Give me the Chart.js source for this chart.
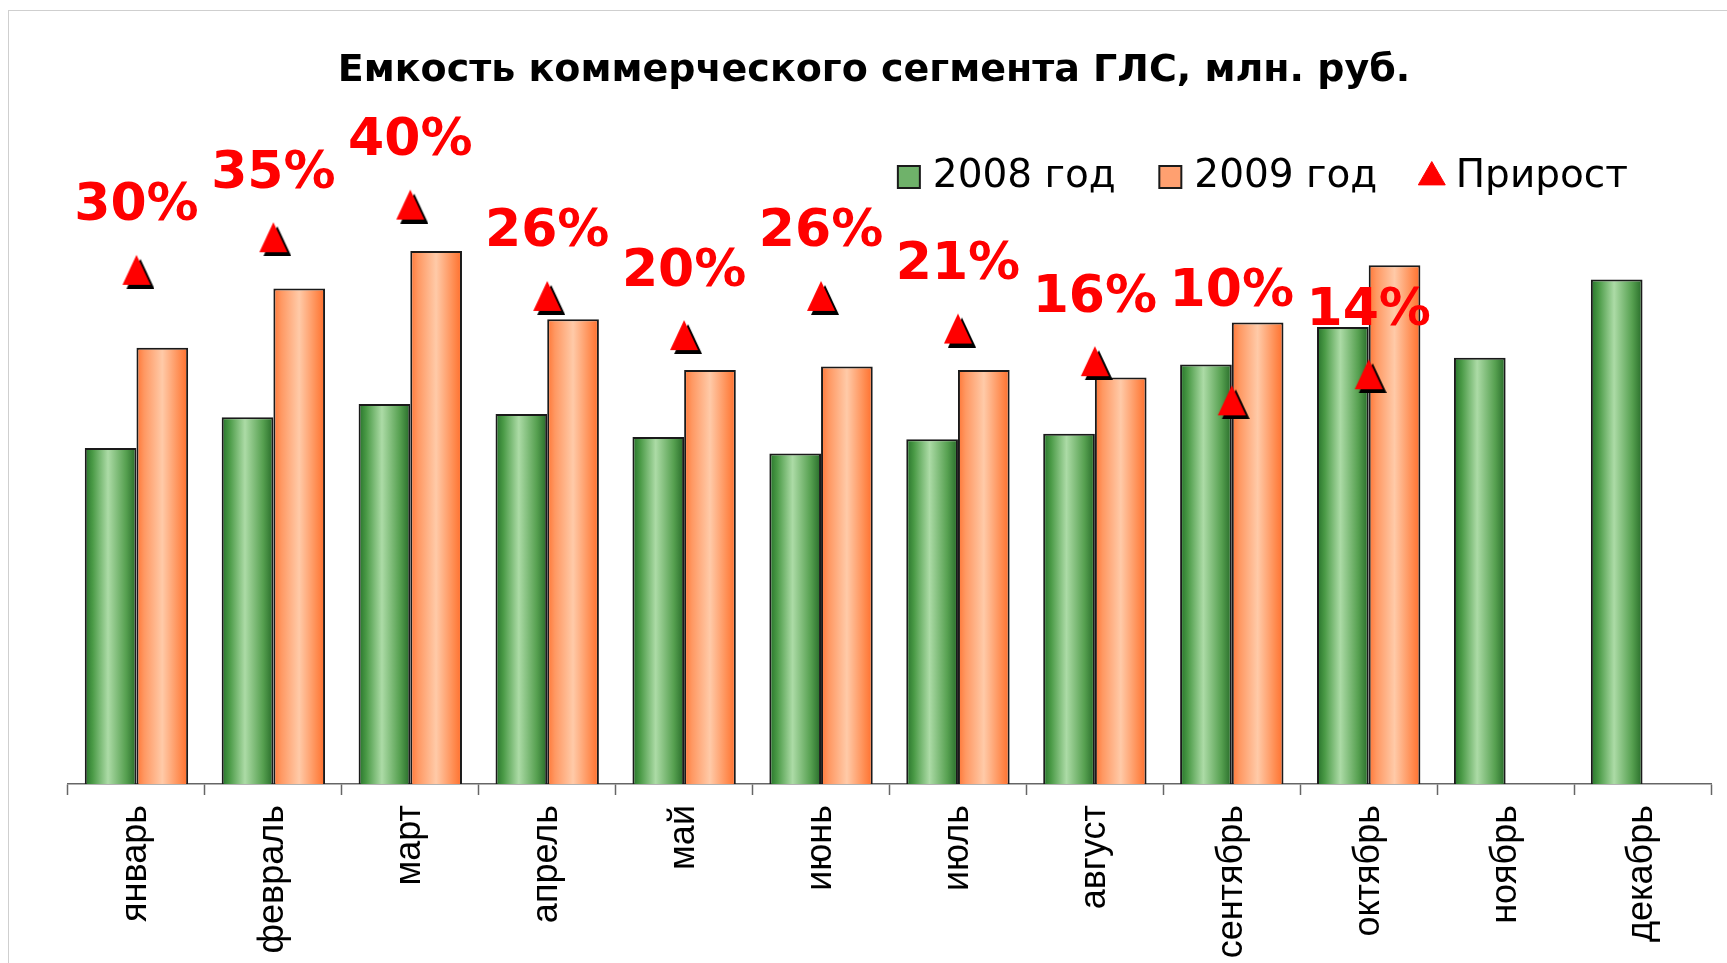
<!DOCTYPE html>
<html lang="ru">
<head>
<meta charset="utf-8">
<title>Емкость коммерческого сегмента ГЛС</title>
<script src="https://cdn.jsdelivr.net/npm/chart.js@4.4.1/dist/chart.umd.min.js"></script>
<style>
  html, body { margin: 0; padding: 0; background: #fff; }
  #wrap { width: 1727px; height: 963px; }
</style>
</head>
<body>
<div id="wrap"><canvas id="myCanvas" width="1727" height="963"></canvas></div>
<script>
'use strict';

const months = ['январь', 'февраль', 'март', 'апрель', 'май', 'июнь',
  'июль', 'август', 'сентябрь', 'октябрь', 'ноябрь', 'декабрь'];
const sales2008 = [305, 333, 345, 336, 315, 300, 313, 318, 381, 415, 387, 458];
const sales2009 = [396, 450, 484, 422, 376, 379, 376, 369, 419, 471, null, null];
const growth = [30, 35, 40, 26, 20, 26, 21, 16, 10, 14, null, null];
const seriesNames = ['2008 год', '2009 год', 'Прирост'];

// how far each growth label sits above its triangle, px
const labelLift = [63, 63, 63, 63, 63, 63, 63, 63, 108, 63, 0, 0];

const greenStops = [[0, '#26722a'], [0.15, '#4a9a46'], [0.45, '#acdba6'], [0.8, '#56a050'], [1, '#266a28']];
const orangeStops = [[0, '#ff7636'], [0.15, '#ff9862'], [0.5, '#ffcaa8'], [0.85, '#ff8a4e'], [1, '#ff6e2c']];

// red triangle with a black drop shadow, used as the point image
function makeTriangle(w, h, shift, color) {
  const c = document.createElement('canvas');
  c.width = w + 2 * shift;
  c.height = h + 2 * shift;
  const g = c.getContext('2d');
  const tri = (dx, dy, fill) => {
    g.beginPath();
    g.moveTo(dx + w / 2, dy);
    g.lineTo(dx + w, dy + h);
    g.lineTo(dx, dy + h);
    g.closePath();
    g.fillStyle = fill;
    g.fill();
  };
  tri(2 * shift, 2 * shift, '#000');
  tri(shift, shift, color);
  return c;
}

const frame = {
  id: 'frame',
  beforeDraw(chart) {
    const ctx = chart.ctx;
    ctx.save();
    ctx.strokeStyle = '#cfcfcf';
    ctx.lineWidth = 1;
    ctx.strokeRect(8.5, 10.5, chart.width, chart.height);
    ctx.restore();
  }
};

// horizontal shading across every bar
const barShading = {
  id: 'barShading',
  beforeDatasetsDraw(chart) {
    const ctx = chart.ctx;
    [[1, greenStops], [2, orangeStops]].forEach(([idx, stops]) => {
      chart.getDatasetMeta(idx).data.forEach(bar => {
        if (!isFinite(bar.x) || !isFinite(bar.width)) return;
        const grad = ctx.createLinearGradient(bar.x - bar.width / 2, 0, bar.x + bar.width / 2, 0);
        stops.forEach(s => grad.addColorStop(s[0], s[1]));
        bar.options.backgroundColor = grad;
      });
    });
  }
};

// title centred on the page, legend pulled in from the right edge
const blockPlace = {
  id: 'blockPlace',
  afterLayout(chart) {
    const tb = chart.titleBlock;
    tb.left = 0;
    tb.right = 1748;
    const lg = chart.legend;
    lg.right = 1628 + lg.options.labels.padding;
    lg.top += 3;
  }
};

const growthLabels = {
  id: 'growthLabels',
  afterDatasetsDraw(chart) {
    const meta = chart.getDatasetMeta(0);
    const ctx = chart.ctx;
    ctx.save();
    ctx.font = 'bold 52px "DejaVu Sans"';
    ctx.fillStyle = '#ff0000';
    ctx.textAlign = 'center';
    ctx.textBaseline = 'middle';
    meta.data.forEach((pt, i) => {
      if (growth[i] == null) return;
      ctx.fillText(growth[i] + '%', pt.x, pt.y - labelLift[i]);
    });
    ctx.restore();
  }
};

const data = {
  labels: months,
  datasets: [{
    type: 'line',
    label: seriesNames[2],
    data: growth,
    yAxisID: 'y1',
    showLine: false,
    pointStyle: makeTriangle(28, 30, 4, '#ff0000'),
    pointRadius: 15,
    pointHoverRadius: 15,
    clip: false,
    order: -1
  }, {
    label: seriesNames[0],
    data: sales2008,
    backgroundColor: () => '#6fb26a',
    borderColor: '#1a1a1a',
    borderWidth: 2,
    categoryPercentage: 0.755,
    barPercentage: 1
  }, {
    label: seriesNames[1],
    data: sales2009,
    backgroundColor: () => '#ffa070',
    borderColor: '#1a1a1a',
    borderWidth: 2,
    categoryPercentage: 0.755,
    barPercentage: 1
  }]
};

const config = {
  type: 'bar',
  data: data,
  options: {
    responsive: false,
    animation: false,
    events: [],
    layout: { padding: { left: 68, right: 12, top: 0, bottom: 0 } },
    plugins: {
      tooltip: { enabled: false },
      title: {
        display: true,
        text: 'Емкость коммерческого сегмента ГЛС, млн. руб.',
        color: '#000',
        font: { family: 'DejaVu Sans', weight: 'bold', size: 38, lineHeight: 1.2 },
        padding: { top: 48, bottom: 11 }
      },
      legend: {
        display: true,
        position: 'top',
        align: 'end',
        labels: {
          color: '#000',
          font: { family: 'DejaVu Sans', size: 39 },
          usePointStyle: true,
          boxWidth: 9,
          boxHeight: 22,
          padding: 50,
          generateLabels(chart) {
            const items = Chart.defaults.plugins.legend.labels.generateLabels(chart);
            items.forEach(item => {
              if (item.datasetIndex === 0) {
                item.pointStyle = 'triangle';
                item.fillStyle = '#ff0000';
                item.strokeStyle = '#ff0000';
                item.lineWidth = 1;
              } else {
                item.pointStyle = 'rect';
                item.strokeStyle = '#1a1a1a';
                item.lineWidth = 2;
              }
            });
            // bars first, then the growth marker
            return items.sort((a, b) => ((a.datasetIndex + 2) % 3) - ((b.datasetIndex + 2) % 3));
          }
        }
      }
    },
    scales: {
      x: {
        offset: true,
        grid: {
          offset: true,
          drawOnChartArea: false,
          drawTicks: true,
          tickLength: 11,
          tickWidth: 1.5,
          tickColor: '#666'
        },
        border: { display: true, color: '#666', width: 1.5 },
        ticks: {
          autoSkip: false,
          minRotation: 90,
          maxRotation: 90,
          padding: 10,
          color: '#000',
          font: { family: 'Liberation Sans', size: 36 }
        },
        afterFit(scale) { scale.height = 179; }
      },
      y: {
        display: false,
        min: 0,
        max: 527
      },
      y1: {
        display: false,
        position: 'right',
        min: -48.8,
        max: 40.15
      }
    }
  },
  plugins: [frame, barShading, blockPlace, growthLabels]
};

const chart = document.getElementById('myCanvas');
const myChart = new Chart(chart, config);
</script>
</body>
</html>
